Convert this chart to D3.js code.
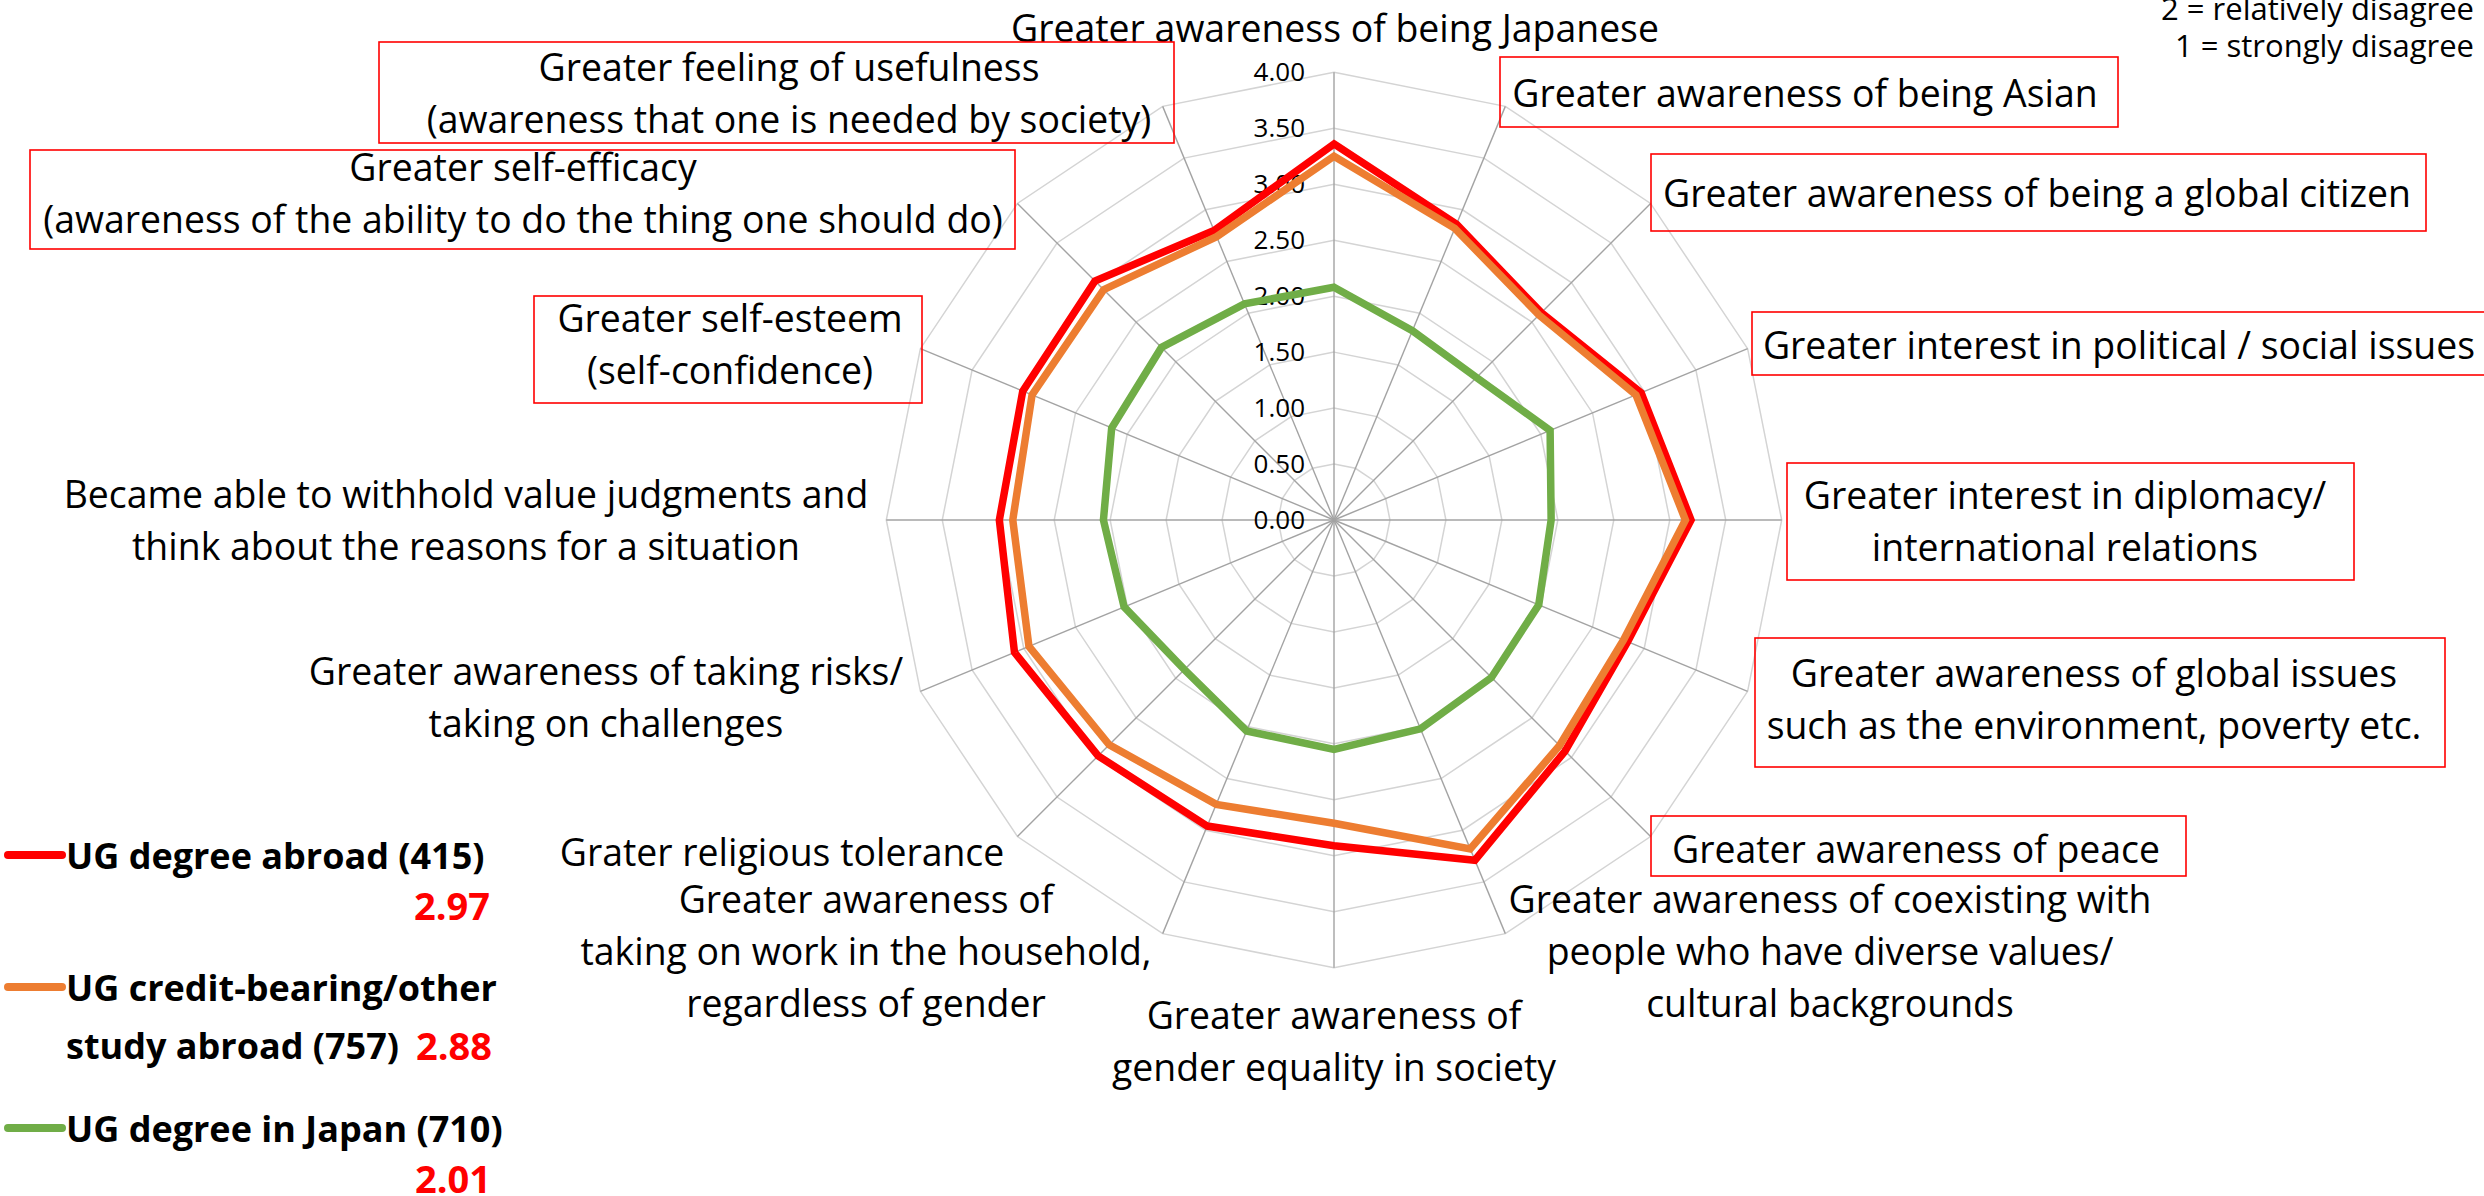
<!DOCTYPE html>
<html><head><meta charset="utf-8">
<script src="https://cdn.jsdelivr.net/npm/d3@7"></script>
<style>
html,body{margin:0;padding:0;background:#fff;overflow:hidden}
svg{display:block}
text{font-family:"Open Sans","Noto Sans",sans-serif;fill:#000}
</style></head><body>
<svg id="chart" width="2484" height="1196"></svg>
<script>
// ---------- DATA ----------
const categories = [
  ["Greater awareness of being Japanese"],
  ["Greater awareness of being Asian"],
  ["Greater awareness of being a global citizen"],
  ["Greater interest in political / social issues"],
  ["Greater interest in diplomacy/", "international relations"],
  ["Greater awareness of global issues", "such as the environment, poverty etc."],
  ["Greater awareness of peace"],
  ["Greater awareness of coexisting with", "people who have diverse values/", "cultural backgrounds"],
  ["Greater awareness of", "gender equality in society"],
  ["Greater awareness of", "taking on work in the household,", "regardless of gender"],
  ["Grater religious tolerance"],
  ["Greater awareness of taking risks/", "taking on challenges"],
  ["Became able to withhold value judgments and", "think about the reasons for a situation"],
  ["Greater self-esteem", "(self-confidence)"],
  ["Greater self-efficacy", "(awareness of the ability to do the thing one should do)"],
  ["Greater feeling of usefulness", "(awareness that one is needed by society)"]
];
const ugDegreeAbroad = [3.36, 2.86, 2.62, 2.97, 3.19, 2.84, 2.92, 3.29, 2.91, 2.96, 2.98, 3.09, 2.99, 3.01, 3.02, 2.80];
const ugCreditBearing = [3.25, 2.82, 2.59, 2.92, 3.14, 2.80, 2.85, 3.18, 2.71, 2.75, 2.84, 2.95, 2.87, 2.92, 2.91, 2.74];
const ugDegreeJapan = [2.08, 1.83, 1.80, 2.09, 1.94, 1.98, 1.99, 2.02, 2.05, 2.04, 1.89, 2.03, 2.06, 2.15, 2.18, 2.09];
const seriesNames = [["UG degree abroad (415)"], ["UG credit-bearing/other", "study abroad (757)"], ["UG degree in Japan (710)"]];
const seriesMeans = ["2.97", "2.88", "2.01"];
const tickValues = [0, 0.5, 1, 1.5, 2, 2.5, 3, 3.5, 4];
const scaleNotes = ["2 = relatively disagree", "1 = strongly disagree"];

// ---------- LAYOUT (positions / styles) ----------
const cx = 1334, cy = 520, R = 447.7;
const FONT = 37.4, LINE = 52;
const colors = ["#FF0000", "#ED7D31", "#70AD47"];
// label anchors: [centre x, y of first line centre]
const labelPos = [
  [1335, 27], [1805, 92], [2037, 192], [2119, 344], [2065, 494], [2094, 672],
  [1916, 848], [1830, 898], [1334, 1014], [866, 898], [782, 851], [606, 670],
  [466, 493], [730, 317], [523, 166], [789, 66]
];
// annotation boxes [x0, y0, x1, y1]
const boxRects = {
  1: [1500, 57, 2118, 127], 2: [1651, 154, 2426, 231], 3: [1752, 312, 2500, 375],
  4: [1787, 463, 2354, 580], 5: [1755, 638, 2445, 767], 6: [1651, 816, 2186, 876],
  13: [534, 296, 922, 403], 14: [30, 150, 1015, 249], 15: [379, 42, 1174, 143]
};

const svg = d3.select("#chart");
const n = categories.length;
const r = d3.scaleLinear().domain([0, 4]).range([0, R]);
const angle = d3.scaleLinear().domain([0, n]).range([0, 2 * Math.PI]);
const g = svg.append("g").attr("transform", `translate(${cx},${cy})`);

// ring grid
const ringLine = d3.lineRadial().angle((d, i) => angle(i)).radius(d => r(d)).curve(d3.curveLinearClosed);
g.selectAll("path.ring").data(tickValues.filter(v => v > 0)).join("path")
  .attr("class", "ring")
  .attr("d", v => ringLine(d3.range(n).map(() => v)))
  .attr("fill", "none").attr("stroke", "#d4d4d4").attr("stroke-width", 1.5);

// spokes
g.selectAll("line.spoke").data(d3.range(n)).join("line")
  .attr("class", "spoke")
  .attr("x1", 0).attr("y1", 0)
  .attr("x2", i => r(4) * Math.sin(angle(i)))
  .attr("y2", i => -r(4) * Math.cos(angle(i)))
  .attr("stroke", "#a3a3a3").attr("stroke-width", 1.4);

// value axis
const yAxisScale = d3.scaleLinear().domain([0, 4]).range([0, -R]);
const ax = g.append("g").call(d3.axisLeft(yAxisScale).tickValues(tickValues).tickFormat(d3.format(".2f")).tickSize(0).tickPadding(29));
ax.select(".domain").remove();
ax.selectAll("text").style("font-family", '"Open Sans","Noto Sans",sans-serif').style("font-size", "26px").attr("fill", "#1a1a1a");

// series
const seriesData = [ugDegreeAbroad, ugCreditBearing, ugDegreeJapan];
const seriesLine = d3.lineRadial().angle((d, i) => angle(i)).radius(d => r(d)).curve(d3.curveLinearClosed);
const drawOrder = [2, 0, 1];
g.selectAll("path.series").data(drawOrder).join("path")
  .attr("class", "series")
  .attr("d", k => seriesLine(seriesData[k]))
  .attr("fill", "none").attr("stroke", k => colors[k]).attr("stroke-width", 7.5)
  .attr("stroke-linejoin", "miter");

// category labels
const labels = svg.append("g");
categories.forEach((lines, i) => {
  const [x, y0] = labelPos[i];
  if (boxRects[i]) {
    const b = boxRects[i];
    labels.append("rect").attr("x", b[0]).attr("y", b[1]).attr("width", b[2] - b[0]).attr("height", b[3] - b[1])
      .attr("fill", "none").attr("stroke", "#FF0000").attr("stroke-width", 1.6);
  }
  const t = labels.append("text").attr("text-anchor", "middle").style("font-size", FONT + "px");
  lines.forEach((ln, j) => {
    t.append("tspan").attr("x", x).attr("y", y0 + j * LINE).attr("dominant-baseline", "central").text(ln);
  });
});

// scale notes (top-right)
scaleNotes.forEach((s, j) => {
  svg.append("text").attr("x", 2474).attr("y", 8 + j * 37).attr("dominant-baseline", "central")
    .attr("text-anchor", "end").style("font-size", "31px").text(s);
});

// legend
const legendRows = [855, 987, 1128];
const legend = svg.append("g");
seriesNames.forEach((lines, k) => {
  const y = legendRows[k];
  legend.append("line").attr("x1", 8).attr("x2", 62).attr("y1", y).attr("y2", y)
    .attr("stroke", colors[k]).attr("stroke-width", 8).attr("stroke-linecap", "round");
  const t = legend.append("text").style("font-size", "36px").style("font-weight", "bold");
  lines.forEach((ln, j) => {
    t.append("tspan").attr("x", 66).attr("y", y + j * 58).attr("dominant-baseline", "central").text(ln);
  });
});
const meanPos = [[490, 905], [492, 1045], [491, 1178]];
seriesMeans.forEach((m, k) => {
  legend.append("text").attr("x", meanPos[k][0]).attr("y", meanPos[k][1]).attr("dominant-baseline", "central")
    .attr("text-anchor", "end").style("font-size", "38px").style("font-weight", "bold").style("fill", "#FF0000").text(m);
});
</script>
</body></html>
